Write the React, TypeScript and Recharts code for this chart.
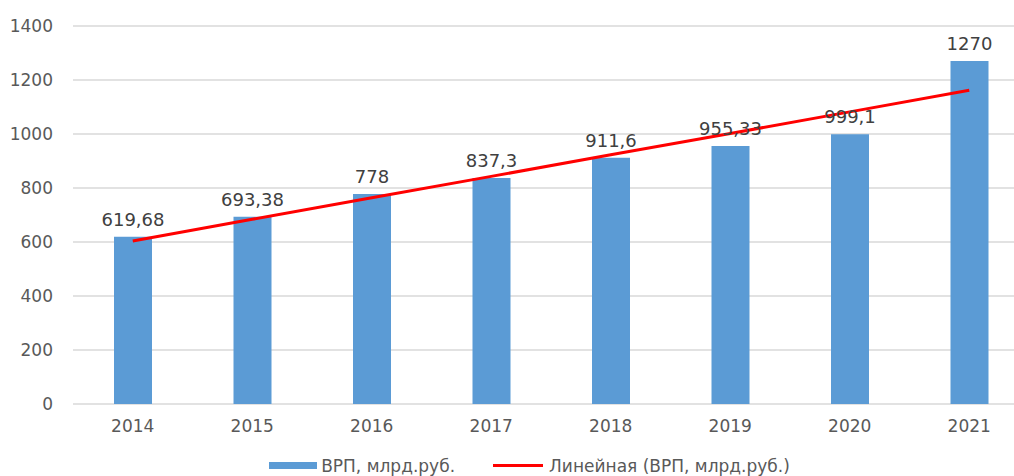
import React from "react";
import { ComposedChart, Bar, Line, XAxis, YAxis, CartesianGrid, Legend, LabelList } from "recharts";

const years = ["2014", "2015", "2016", "2017", "2018", "2019", "2020", "2021"];
const grp = [619.68, 693.38, 778, 837.3, 911.6, 955.33, 999.1, 1270];
const trend = [604, 684, 764, 843, 923, 1002, 1082, 1162];
const yTicks = [0, 200, 400, 600, 800, 1000, 1200, 1400];

const data = years.map((y, i) => ({ year: y, grp: grp[i], trend: trend[i] }));

const FONT = "'DejaVu Sans', sans-serif";

const LegendContent = () => (
  <div
    style={{
      height: 26,
      boxSizing: "border-box",
      paddingTop: 5,
      display: "flex",
      alignItems: "center",
      justifyContent: "center",
      paddingLeft: 30,
      fontFamily: FONT,
      fontSize: 17,
      color: "#595959",
      whiteSpace: "nowrap",
    }}
  >
    <span style={{ display: "inline-block", width: 48, height: 7, background: "#5B9BD5", marginRight: 4 }} />
    <span>ВРП, млрд.руб.</span>
    <span style={{ display: "inline-block", width: 50, height: 3, background: "#FF0000", marginLeft: 38, marginRight: 6 }} />
    <span>Линейная (ВРП, млрд.руб.)</span>
  </div>
);

export default function App() {
  return (
    <div style={{ position: "absolute", left: 0, top: 0, width: 1014, height: 476, overflow: "hidden", background: "#fff" }}>
      <ComposedChart width={1030} height={476} data={data} margin={{ top: 26, right: 1, left: 0, bottom: 0 }}>
        <CartesianGrid horizontal vertical={false} stroke="#d9d9d9" strokeWidth={1.5} />
        <XAxis
          dataKey="year"
          axisLine={false}
          tickLine={false}
          height={46}
          tickSize={0}
          tickMargin={16}
          tick={{ fill: "#595959", fontSize: 17, fontFamily: FONT }}
        />
        <YAxis
          domain={[0, 1400]}
          ticks={yTicks}
          width={73}
          axisLine={false}
          tickLine={false}
          tickSize={0}
          tickMargin={20}
          tick={{ fill: "#595959", fontSize: 17, fontFamily: FONT }}
        />
        <Bar dataKey="grp" fill="#5B9BD5" barSize={38} isAnimationActive={false}>
          <LabelList
            dataKey="grp"
            position="top"
            offset={11}
            formatter={(v: number) => String(v).replace(".", ",")}
            style={{ fill: "#404040", fontSize: 18, fontFamily: FONT }}
          />
        </Bar>
        <Line dataKey="trend" stroke="#FF0000" strokeWidth={3} dot={false} activeDot={false} isAnimationActive={false} />
        <Legend verticalAlign="bottom" content={<LegendContent />} />
      </ComposedChart>
    </div>
  );
}
